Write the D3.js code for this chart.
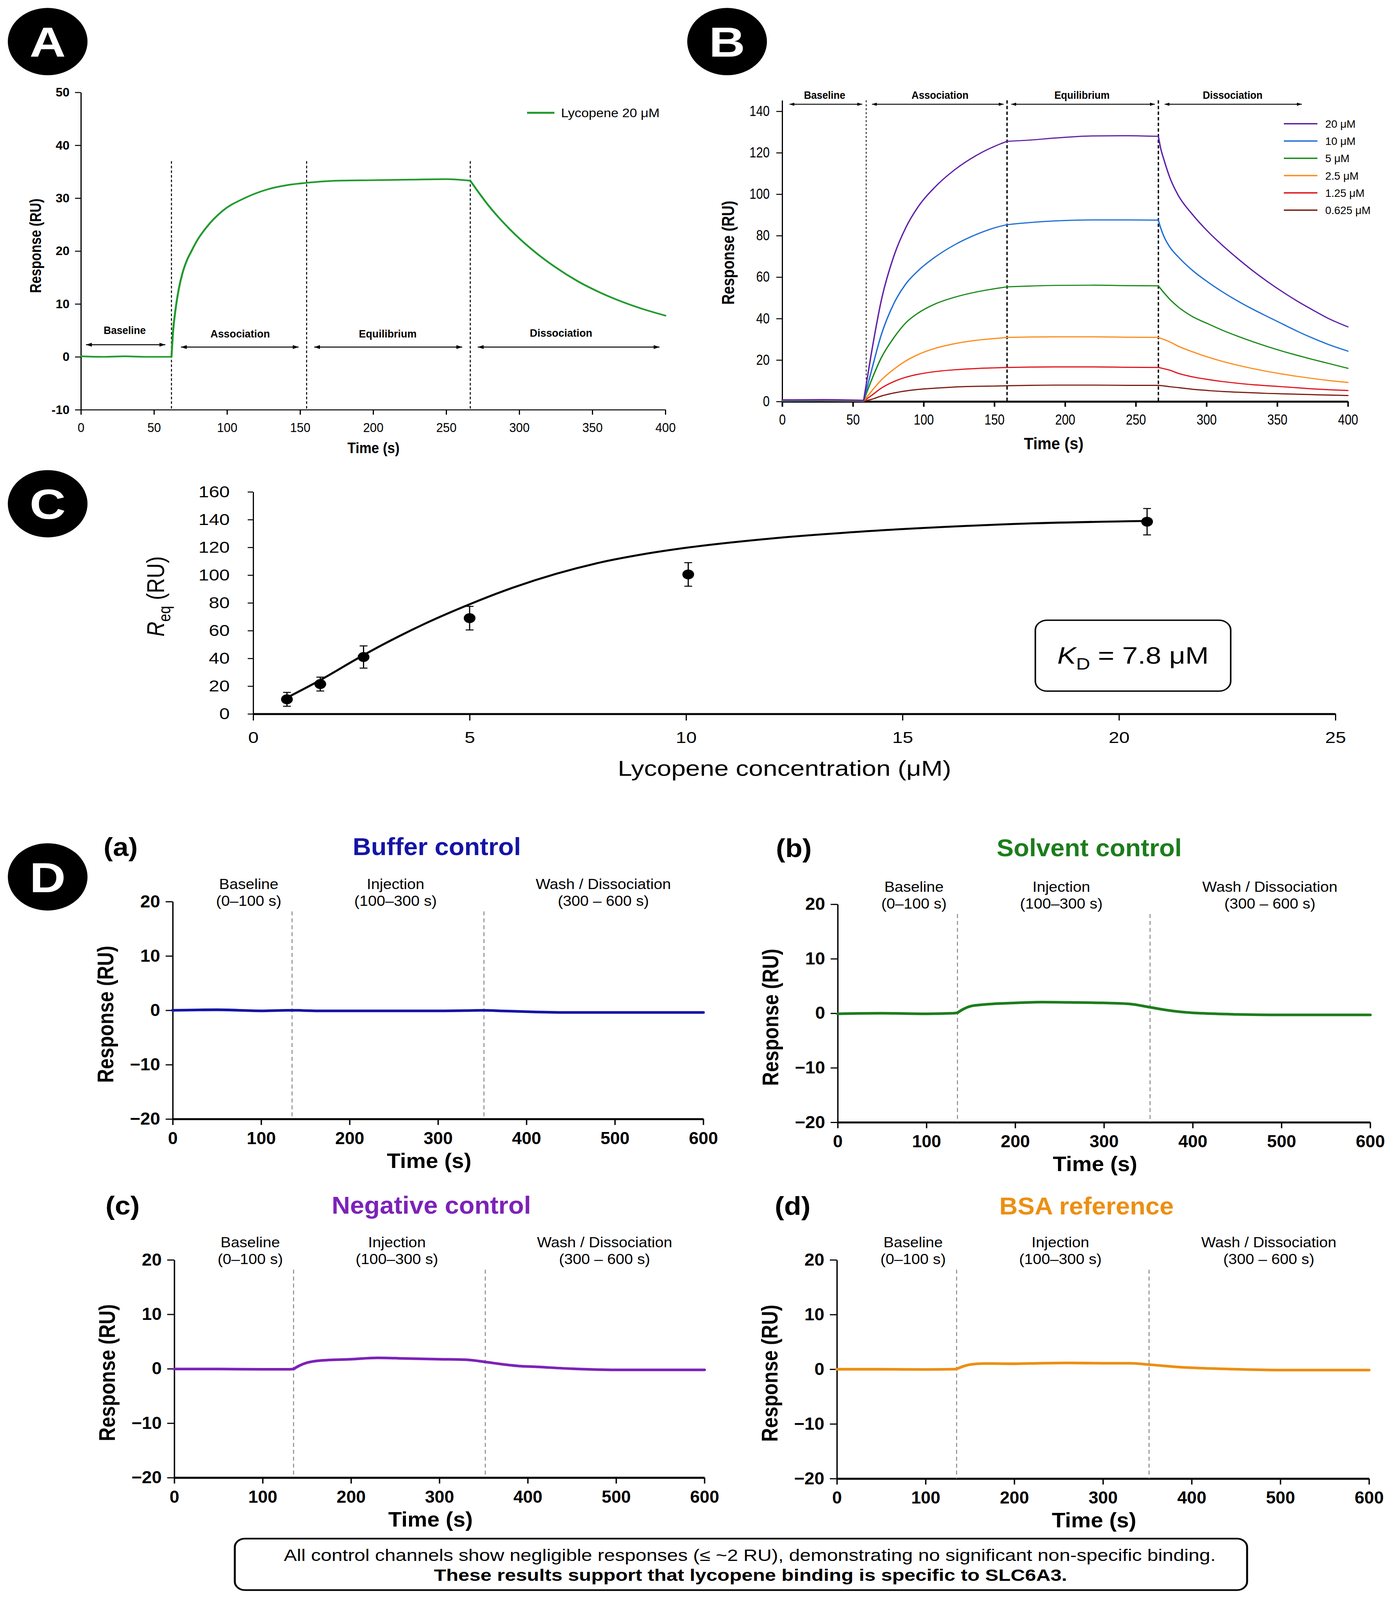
<!DOCTYPE html>
<html>
<head>
<meta charset="utf-8">
<script src="https://cdn.jsdelivr.net/npm/d3@7"></script>
<style>html,body{margin:0;padding:0;background:#fff;overflow:hidden;} svg{display:block;}</style>
</head>
<body>
<div id="fig"></div>
<script>
/* ---------- data ---------- */
// A: single sensorgram, lycopene 20 uM
const aTime = [0, 15, 30, 45, 62, 63, 64.8, 67, 69.4, 72.5, 75.5, 80, 86, 97, 112, 127, 142, 154.5, 175, 200, 225, 250, 266.5, 279, 294, 310, 325, 340, 355, 370.5, 385, 400];
const aResp = [0.1, 0.0, 0.1, 0.0, 0.0, 4.5, 9.0, 12.8, 15.7, 18.2, 19.9, 22.2, 24.5, 27.6, 30.0, 31.6, 32.5, 32.9, 33.3, 33.4, 33.5, 33.6, 33.3, 28.6, 24.0, 20.0, 16.9, 14.3, 12.2, 10.4, 9.0, 7.8];
const aBreaks = [62, 266.5];

// B: concentration series
const bTime = [0, 30, 57.6, 63, 70, 79, 87.5, 96, 108, 122, 137, 154, 159, 175, 193, 220, 245, 266, 267.5, 270, 274.5, 280, 290, 301, 311.5, 322, 332.5, 343, 354, 364.5, 375, 385.5, 400];
const bBreaks = [57.6, 159, 266];
const bLabels = ["20 μM", "10 μM", "5 μM", "2.5 μM", "1.25 μM", "0.625 μM"];
const b20    = [0.8, 0.9, 0.6, 23.0, 48.5, 70.2, 84.0, 93.8, 103.4, 111.8, 118.6, 124.2, 125.5, 126.1, 127.1, 128.1, 128.2, 127.9, 122.5, 116.5, 107.3, 99.5, 90.3, 82.0, 75.2, 69.0, 63.2, 57.9, 52.8, 48.3, 44.2, 40.3, 36.0];
const b10    = [0.5, 0.6, 0.4, 14.5, 32.0, 47.3, 56.8, 63.0, 69.6, 75.6, 80.5, 84.5, 85.3, 86.3, 87.1, 87.6, 87.6, 87.5, 84.0, 79.5, 74.1, 69.8, 63.3, 57.6, 52.8, 48.5, 44.6, 41.0, 37.3, 33.8, 30.6, 27.7, 24.3];
const b5     = [0.4, 0.5, 0.3, 10.0, 21.0, 30.8, 38.0, 42.6, 47.0, 50.3, 52.8, 54.8, 55.3, 55.7, 56.0, 56.1, 55.9, 55.8, 54.5, 52.4, 49.0, 45.6, 41.0, 37.5, 34.3, 31.5, 28.9, 26.5, 24.2, 22.2, 20.3, 18.5, 16.0];
const b2_5   = [0.3, 0.4, 0.2, 4.8, 10.3, 15.6, 19.6, 22.6, 25.6, 27.9, 29.5, 30.6, 30.9, 31.1, 31.2, 31.2, 31.0, 30.9, 30.5, 29.9, 28.6, 26.7, 24.0, 21.4, 19.3, 17.5, 15.9, 14.5, 13.2, 12.1, 11.1, 10.2, 9.2];
const b1_25  = [0.3, 0.4, 0.2, 2.8, 6.4, 9.6, 11.7, 13.1, 14.4, 15.3, 15.9, 16.3, 16.4, 16.6, 16.7, 16.7, 16.5, 16.4, 16.2, 15.8, 15.0, 13.6, 11.9, 10.6, 9.6, 8.8, 8.1, 7.6, 7.1, 6.6, 6.1, 5.7, 5.3];
const b0_625 = [0.2, 0.3, 0.1, 1.0, 2.6, 4.1, 5.1, 5.8, 6.4, 7.0, 7.3, 7.5, 7.6, 7.8, 7.9, 7.9, 7.8, 7.8, 7.7, 7.5, 7.1, 6.7, 5.9, 5.3, 4.8, 4.5, 4.2, 3.9, 3.7, 3.5, 3.3, 3.1, 2.9];
const bColors = ["#5f1fa6", "#1f6fd6", "#1a8a1a", "#ff8a1a", "#e0141c", "#7a1c10"];

// C: steady-state affinity
const cConc = [0.78, 1.55, 2.55, 5.0, 10.05, 20.65];
const cReq  = [10.5, 21.5, 41, 69, 100.5, 138.5];
const cErr  = [5, 5, 8, 8.5, 8.5, 9.5];
const cFitX = [0.8, 1.5, 2.5, 3, 4, 5, 6, 7, 8, 9, 10, 12, 14, 16, 18, 20.6];
const cFitY = [12, 23.5, 41.5, 50, 65.5, 79, 91, 101, 109, 115, 119.7, 126.5, 131.3, 134.8, 137.3, 139];

// D: control channels
const dTime     = [0, 50, 100, 130, 135, 142, 150, 165, 200, 230, 260, 300, 330, 352, 370, 390, 410, 450, 500, 550, 600];
const dBreaks   = [135];
const dBuffer   = [0, 0.1, -0.1, 0, 0, 0, -0.05, -0.1, -0.1, -0.1, -0.1, -0.1, -0.05, 0, -0.1, -0.2, -0.3, -0.4, -0.4, -0.4, -0.4];
const dSolvent  = [-0.1, 0, -0.1, 0, 0.1, 0.8, 1.3, 1.6, 1.9, 2.05, 2.0, 1.9, 1.7, 1.1, 0.6, 0.2, 0.0, -0.2, -0.3, -0.3, -0.3];
const dNegative = [-0.05, -0.05, -0.1, -0.1, -0.05, 0.6, 1.1, 1.5, 1.75, 2.0, 1.9, 1.75, 1.65, 1.25, 0.85, 0.5, 0.35, 0.0, -0.2, -0.2, -0.2];
const dBSA      = [0, 0, -0.05, 0, 0.05, 0.5, 0.85, 1.05, 1.0, 1.1, 1.15, 1.1, 1.1, 0.85, 0.6, 0.35, 0.2, 0.0, -0.15, -0.15, -0.15];
const dPhases = ["Baseline", "Injection", "Wash / Dissociation"];
const dRanges = ["(0\u2013100 s)", "(100\u2013300 s)", "(300 \u2013 600 s)"];

/* ---------- setup ---------- */
const W = 3568, H = 4850;
const SANS = '"Liberation Sans",Arial,Helvetica,sans-serif';

// fit the whole figure into the window that is actually available
let vw = window.innerWidth, vh = window.innerHeight;
if (!vw || vw < 500) vw = W;
if (!vh || vh < 500) vh = H;

const svg = d3.select("#fig").append("svg")
    .attr("width", vw).attr("height", vh)
    .attr("viewBox", `0 0 ${W} ${H}`)
    .attr("preserveAspectRatio", "none");
svg.append("rect").attr("width", W).attr("height", H).attr("fill", "#fff");

const defs = svg.append("defs");
defs.append("marker")
    .attr("id", "arr").attr("viewBox", "0 0 10 8")
    .attr("refX", 10).attr("refY", 4)
    .attr("markerWidth", 5).attr("markerHeight", 4)
    .attr("orient", "auto-start-reverse")
  .append("path").attr("d", "M0,0 L10,4 L0,8 z").attr("fill", "#000");

// sx < 1 squeezes tick labels into a condensed look
function styleAxis(g, size, weight, lw, domainW, sx) {
    g.attr("font-family", SANS).attr("font-size", size).attr("font-weight", weight);
    g.select(".domain").attr("stroke-width", domainW || lw);
    g.selectAll(".tick line").attr("stroke-width", lw);
    g.selectAll(".tick text").attr("fill", "#000");
    if (sx && sx !== 1) {
        g.selectAll(".tick text").each(function () {
            const t = d3.select(this);
            const x = +t.attr("x") || 0;
            t.attr("x", x / sx).attr("transform", `scale(${sx},1)`);
        });
    }
}

function badge(cx, cy, letter) {
    svg.append("circle").attr("cx", cx).attr("cy", cy).attr("r", 102).attr("fill", "#000");
    svg.append("text").attr("x", cx).attr("y", cy + 46).attr("text-anchor", "middle")
        .attr("font-family", SANS).attr("font-weight", "bold").attr("font-size", 128)
        .attr("fill", "#fff").text(letter);
}

function arrow(g, x1, x2, y, w) {
    g.append("line").attr("x1", x1).attr("x2", x2).attr("y1", y).attr("y2", y)
        .attr("stroke", "#000").attr("stroke-width", w || 3)
        .attr("marker-start", "url(#arr)").attr("marker-end", "url(#arr)");
}

function label(g, x, y, txt, size, weight, opts) {
    opts = opts || {};
    let tf = `translate(${x},${y})`;
    if (opts.rotate) tf += " rotate(-90)";
    if (opts.sx) tf += ` scale(${opts.sx},1)`;
    return g.append("text").attr("transform", tf)
        .attr("text-anchor", opts.anchor || "middle")
        .attr("font-family", SANS).attr("font-size", size)
        .attr("font-weight", weight || "normal")
        .attr("fill", opts.fill || "#000").text(txt);
}

// split a trace at phase boundaries so the corners stay sharp
function drawTrace(g, times, vals, breaks, lineGen, color, width) {
    const pts = times.map((t, i) => [t, vals[i]]);
    const cuts = [0];
    times.forEach((t, i) => { if (breaks.indexOf(t) >= 0) cuts.push(i); });
    cuts.push(times.length - 1);
    for (let k = 0; k < cuts.length - 1; k++) {
        g.append("path").datum(pts.slice(cuts[k], cuts[k + 1] + 1))
            .attr("fill", "none").attr("stroke", color).attr("stroke-width", width)
            .attr("stroke-linejoin", "round").attr("stroke-linecap", "round")
            .attr("d", lineGen);
    }
}

/* ---------- panel A ---------- */
badge(122, 126, "A");
const gA = svg.append("g");
const xA = d3.scaleLinear().domain([0, 400]).range([207, 1703]);
const yA = d3.scaleLinear().domain([-10, 50]).range([1242, 280]);

const axAy = gA.append("g").attr("transform", "translate(207,0)")
    .call(d3.axisLeft(yA).tickValues(d3.range(-10, 51, 10)).tickFormat(d => String(d))
        .tickSize(15).tickSizeOuter(0).tickPadding(14));
styleAxis(axAy, 38, "bold", 3, 3, 0.84);
const axAx = gA.append("g").attr("transform", "translate(0,1242)")
    .call(d3.axisBottom(xA).tickValues(d3.range(0, 401, 50)).tickSize(15).tickSizeOuter(0).tickPadding(24));
styleAxis(axAx, 40, "normal", 3, 3, 0.78);

[62, 154.5, 266.5].forEach(t => {
    gA.append("line").attr("x1", xA(t)).attr("x2", xA(t)).attr("y1", yA(37)).attr("y2", yA(-10))
        .attr("stroke", "#000").attr("stroke-width", 2.5).attr("stroke-dasharray", "8,6");
});

const lineA = d3.line().x(d => xA(d[0])).y(d => yA(d[1])).curve(d3.curveMonotoneX);
drawTrace(gA, aTime, aResp, aBreaks, lineA, "#1f9a2c", 5);

arrow(gA, xA(3.5), xA(57.8), 1045);
arrow(gA, xA(68.5), xA(149), 1052);
arrow(gA, xA(159.7), xA(261), 1052);
arrow(gA, xA(271.6), xA(396), 1052);
label(gA, xA(30), 1012, "Baseline", 32, "bold", {sx: 0.82});
label(gA, xA(109), 1023, "Association", 32, "bold", {sx: 0.84});
label(gA, xA(210), 1023, "Equilibrium", 32, "bold", {sx: 0.84});
label(gA, xA(328.6), 1021, "Dissociation", 32, "bold", {sx: 0.84});

gA.append("line").attr("x1", 1349).attr("x2", 1419).attr("y1", 342).attr("y2", 342)
    .attr("stroke", "#1f9a2c").attr("stroke-width", 6);
label(gA, 1436, 355, "Lycopene 20 μM", 38, "normal", {anchor: "start", sx: 0.9});

label(gA, 956, 1374, "Time (s)", 46, "bold", {sx: 0.76});
label(gA, 105, 745, "Response (RU)", 40, "bold", {rotate: true});

/* ---------- panel B ---------- */
badge(1861, 126, "B");
const gB = svg.append("g");
const xB = d3.scaleLinear().domain([0, 400]).range([2002, 3450]);
const yB = d3.scaleLinear().domain([0, 145.3]).range([1217, 304]);

const axBy = gB.append("g").attr("transform", "translate(2002,0)")
    .call(d3.axisLeft(yB).tickValues(d3.range(0, 141, 20)).tickSize(15).tickSizeOuter(0).tickPadding(17));
styleAxis(axBy, 43, "normal", 3, 3, 0.72);
const axBx = gB.append("g").attr("transform", "translate(0,1217)")
    .call(d3.axisBottom(xB).tickValues(d3.range(0, 401, 50)).tickSize(16).tickSizeOuter(0).tickPadding(23));
styleAxis(axBx, 43, "normal", 4, 6, 0.72);

gB.append("line").attr("x1", xB(59.4)).attr("x2", xB(59.4)).attr("y1", 304).attr("y2", 1217)
    .attr("stroke", "#000").attr("stroke-width", 2).attr("stroke-dasharray", "6,6");
[159, 266].forEach(t => {
    gB.append("line").attr("x1", xB(t)).attr("x2", xB(t)).attr("y1", 304).attr("y2", 1217)
        .attr("stroke", "#000").attr("stroke-width", 3.5).attr("stroke-dasharray", "10,7");
});

const bSeries = [b20, b10, b5, b2_5, b1_25, b0_625];
const lineB = d3.line().x(d => xB(d[0])).y(d => yB(d[1])).curve(d3.curveMonotoneX);
for (let i = bSeries.length - 1; i >= 0; i--) {
    drawTrace(gB, bTime, bSeries[i], bBreaks, lineB, bColors[i], 3.5);
}

arrow(gB, xB(5.2), xB(56.6), 316, 2.5);
arrow(gB, xB(63.5), xB(156.6), 316, 2.5);
arrow(gB, xB(162), xB(263.5), 316, 2.5);
arrow(gB, xB(270.4), xB(367.4), 316, 2.5);
label(gB, xB(30), 299, "Baseline", 33, "bold", {sx: 0.78});
label(gB, xB(111.6), 299, "Association", 33, "bold", {sx: 0.78});
label(gB, xB(212), 299, "Equilibrium", 33, "bold", {sx: 0.78});
label(gB, xB(318.5), 299, "Dissociation", 33, "bold", {sx: 0.78});

const legB = gB.append("g");
bLabels.forEach((lab, i) => {
    const y = 375 + i * 52.4;
    legB.append("line").attr("x1", 3286).attr("x2", 3372).attr("y1", y).attr("y2", y)
        .attr("stroke", bColors[i]).attr("stroke-width", 4);
    label(legB, 3392, y + 12, lab, 33, "normal", {anchor: "start", sx: 0.84});
});

label(gB, 2697, 1362, "Time (s)", 50, "bold", {sx: 0.8});
label(gB, 1879, 766, "Response (RU)", 44, "bold", {rotate: true});

/* ---------- panel C ---------- */
badge(122, 1527, "C");
const gC = svg.append("g");
const xC = d3.scaleLinear().domain([0, 25]).range([648, 3418]);
const yC = d3.scaleLinear().domain([0, 160]).range([2164, 1491]);

const axCy = gC.append("g").attr("transform", "translate(648,0)")
    .call(d3.axisLeft(yC).tickValues(d3.range(0, 161, 20)).tickSize(14).tickSizeOuter(0).tickPadding(46));
styleAxis(axCy, 48, "normal", 3, 3, 1);
const axCx = gC.append("g").attr("transform", "translate(0,2164)")
    .call(d3.axisBottom(xC).tickValues(d3.range(0, 26, 5)).tickSize(20).tickSizeOuter(0).tickPadding(34));
styleAxis(axCx, 48, "normal", 3, 6, 1);

gC.append("path").datum(cFitX.map((x, i) => [x, cFitY[i]]))
    .attr("fill", "none").attr("stroke", "#000").attr("stroke-width", 6)
    .attr("d", d3.line().x(d => xC(d[0])).y(d => yC(d[1])).curve(d3.curveMonotoneX));

const pts = gC.selectAll(".pt").data(cConc.map((c, i) => ({c: c, r: cReq[i], e: cErr[i]})))
    .enter().append("g").attr("class", "pt");
pts.append("line").attr("x1", d => xC(d.c)).attr("x2", d => xC(d.c))
    .attr("y1", d => yC(d.r - d.e)).attr("y2", d => yC(d.r + d.e))
    .attr("stroke", "#000").attr("stroke-width", 3);
[-1, 1].forEach(sg => {
    pts.append("line").attr("x1", d => xC(d.c) - 10).attr("x2", d => xC(d.c) + 10)
        .attr("y1", d => yC(d.r + sg * d.e)).attr("y2", d => yC(d.r + sg * d.e))
        .attr("stroke", "#000").attr("stroke-width", 3);
});
pts.append("circle").attr("cx", d => xC(d.c)).attr("cy", d => yC(d.r)).attr("r", 15).attr("fill", "#000");

gC.append("rect").attr("x", 2650).attr("y", 1880).attr("width", 500).attr("height", 215)
    .attr("rx", 30).attr("fill", "#fff").attr("stroke", "#000").attr("stroke-width", 4);
const kd = gC.append("text").attr("x", 2900).attr("y", 2012).attr("text-anchor", "middle")
    .attr("font-family", SANS).attr("font-size", 72);
kd.append("tspan").attr("font-style", "italic").text("K");
kd.append("tspan").attr("font-size", 50).attr("dy", 17).text("D");
kd.append("tspan").attr("dy", -17).text(" = 7.8 μM");

const rq = gC.append("text").attr("x", 420).attr("y", 1808).attr("text-anchor", "middle")
    .attr("font-family", SANS).attr("font-size", 63)
    .attr("transform", "rotate(-90,420,1808)");
rq.append("tspan").attr("font-style", "italic").text("R");
rq.append("tspan").attr("font-size", 43).attr("dy", 16).text("eq");
rq.append("tspan").attr("dy", -16).text(" (RU)");

label(gC, 2008, 2352, "Lycopene concentration (μM)", 66, "normal");

/* ---------- panel D ---------- */
badge(122, 2658, "D");
const dPanels = [
    {tag: "(a)", title: "Buffer control",   color: "#1414a6", vals: dBuffer,   x0: 442,  x1: 1800, yT: 2733, yB: 3392, tagX: 265,  titleX: 1118, titleY: 2567},
    {tag: "(b)", title: "Solvent control",  color: "#1c7d1c", vals: dSolvent,  x0: 2144, x1: 3507, yT: 2741, yB: 3402, tagX: 1986, titleX: 2788, titleY: 2571},
    {tag: "(c)", title: "Negative control", color: "#7d22b8", vals: dNegative, x0: 446,  x1: 1803, yT: 3819, yB: 4479, tagX: 270,  titleX: 1104, titleY: 3654},
    {tag: "(d)", title: "BSA reference",    color: "#ec8f12", vals: dBSA,      x0: 2142, x1: 3504, yT: 3819, yB: 4482, tagX: 1983, titleX: 2781, titleY: 3656}
];

dPanels.forEach(p => {
    const g = svg.append("g");
    const x = d3.scaleLinear().domain([0, 600]).range([p.x0, p.x1]);
    const y = d3.scaleLinear().domain([-20, 20]).range([p.yB, p.yT]);

    const ay = g.append("g").attr("transform", `translate(${p.x0},0)`)
        .call(d3.axisLeft(y).tickValues(d3.range(-20, 21, 10)).tickSize(18).tickSizeOuter(0).tickPadding(14));
    styleAxis(ay, 52, "bold", 3.5, 3.5, 0.88);
    const ax = g.append("g").attr("transform", `translate(0,${p.yB})`)
        .call(d3.axisBottom(x).tickValues(d3.range(0, 601, 100)).tickSize(18).tickSizeOuter(0).tickPadding(21));
    styleAxis(ax, 52, "bold", 3.5, 6, 0.86);

    [135, 352].forEach(t => {
        g.append("line").attr("x1", x(t)).attr("x2", x(t)).attr("y1", y(18.2)).attr("y2", p.yB)
            .attr("stroke", "#888").attr("stroke-width", 2.5).attr("stroke-dasharray", "12,9");
    });

    const lineD = d3.line().x(d => x(d[0])).y(d => y(d[1])).curve(d3.curveMonotoneX);
    drawTrace(g, dTime, p.vals, dBreaks, lineD, p.color, 8);

    [86, 252, 487].forEach((t, i) => {
        label(g, x(t), p.yT - 53 + 15, dPhases[i], 44, "normal", {sx: 0.9});
        label(g, x(t), p.yT - 2 + 15, dRanges[i], 44, "normal", {sx: 0.9});
    });

    label(g, p.tagX, p.titleY + 27, p.tag, 78, "bold", {anchor: "start", sx: 0.92});
    label(g, p.titleX, p.titleY + 25, p.title, 74, "bold", {fill: p.color, sx: 0.88});
    label(g, x(290), p.yB + 148, "Time (s)", 63, "bold", {sx: 0.9});
    label(g, p.x0 - 152, (p.yT + p.yB) / 2 + 12, "Response (RU)", 58, "bold", {rotate: true});
});

/* ---------- bottom note ---------- */
svg.append("rect").attr("x", 601).attr("y", 4664).attr("width", 2591).attr("height", 156)
    .attr("rx", 26).attr("fill", "#fff").attr("stroke", "#000").attr("stroke-width", 5);
label(svg, 1919, 4732, "All control channels show negligible responses (\u2264 ~2 RU), demonstrating no significant non-specific binding.", 50, "normal");
label(svg, 1921, 4792, "These results support that lycopene binding is specific to SLC6A3.", 51, "bold");
</script>
</body>
</html>
